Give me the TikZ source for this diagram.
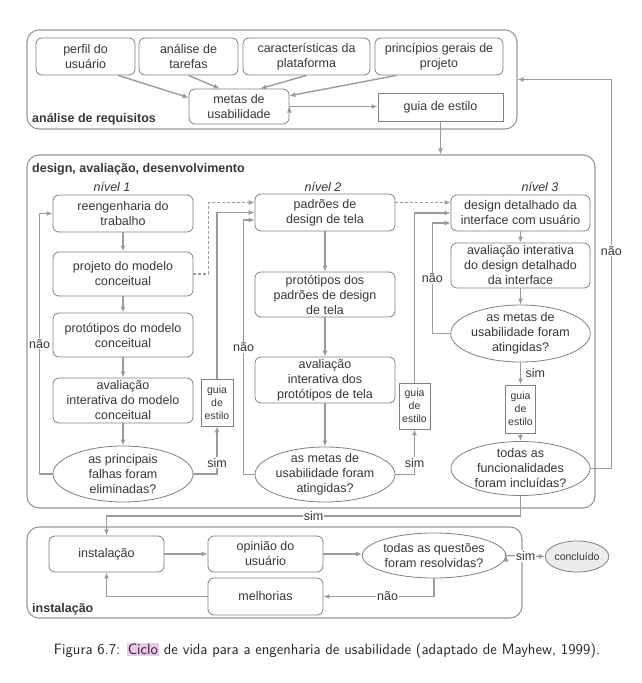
\documentclass[tikz,border=0pt]{standalone}
\usepackage{fontspec}
\setmainfont{Liberation Sans}
\usepackage{tikz}
\usetikzlibrary{arrows.meta,positioning,shapes.geometric,calc}
\definecolor{linegray}{RGB}{155,155,155}
\definecolor{boxgray}{RGB}{128,128,128}
\definecolor{groupgray}{RGB}{150,150,150}
\definecolor{txtgray}{RGB}{55,55,55}
\definecolor{donefill}{RGB}{236,236,236}
\definecolor{ciclopink}{RGB}{236,200,232}
\newcommand{\diagfont}{\fontsize{12.5}{15}\selectfont}
\newcommand{\guiafont}{\fontsize{10.5}{13}\selectfont}
\tikzset{
  box/.style={draw=boxgray, line width=0.8pt, rounded corners=6pt, align=center, inner sep=0pt, minimum height=37pt},
  decision/.style={ellipse, draw=boxgray, line width=0.8pt, align=center, inner xsep=0pt, inner ysep=-3pt},
  guiabox/.style={draw=boxgray, line width=0.8pt, align=center, inner sep=0pt, font=\guiafont},
  group/.style={draw=groupgray, rounded corners=12pt, line width=1.1pt, inner sep=0pt},
  grouplabel/.style={font=\diagfont\bfseries, anchor=base west, inner sep=0pt},
  level/.style={font=\diagfont\itshape},
  flow/.style={draw=linegray, line width=1.4pt, -{Latex[length=6pt,width=5pt]}},
  dflow/.style={flow, dash pattern=on 3pt off 2pt},
  lbl/.style={fill=white, inner sep=1pt}
}
\begin{document}
\begin{tikzpicture}[x=1pt,y=-1pt,font=\diagfont,text=txtgray]
\useasboundingbox (0,0) rectangle (641,683);

% containers
\node[group, minimum width=490pt, minimum height=99pt] (req) at (272,79.5) {};
\node[group, minimum width=568pt, minimum height=353pt] (des) at (311,331.5) {};
\node[group, minimum width=495pt, minimum height=91pt] (ins) at (274.5,572.5) {};
\node[grouplabel] (reqlabel) at (32,122) {análise de requisitos};
\node[grouplabel] (deslabel) at (32,172) {design, avaliação, desenvolvimento};
\node[grouplabel] (inslabel) at (32,612) {instalação};

% análise de requisitos
\node[box, minimum width=99pt] (perfil) at (85.5,56.5) {perfil do\\usuário};
\node[box, minimum width=99pt] (tarefas) at (188.5,56.5) {análise de\\tarefas};
\node[box, minimum width=127pt] (plataforma) at (306.5,56.5) {características da\\plataforma};
\node[box, minimum width=128pt] (principios) at (439,56.5) {princípios gerais de\\projeto};
\node[box, minimum width=100pt, minimum height=35pt] (metas) at (239,106.5) {metas de\\usabilidade};
\node[guiabox, font=\diagfont, minimum width=125pt, minimum height=28pt] (guia0) at (440.5,107) {guia de estilo};

\path[flow]
(perfil.-30) edge (metas.170)
(tarefas.south) edge (metas.137)
(plataforma.south) edge (metas.40)
(principios.-156) edge (metas.12)
(metas.east) edge (metas.east -| guia0.west);
\draw[flow] (guia0.south) -- (guia0.south |- des.north);

% nível 1
\node[level] (n1) at (112,187) {nível 1};
\node[box, minimum width=140pt] (reeng) at (123,213.5) {reengenharia do\\trabalho};
\node[box, minimum width=140pt, minimum height=44pt] (projeto) at (123,274) {projeto do modelo\\conceitual};
\node[box, minimum width=140pt, minimum height=44pt] (prot1) at (123,335) {protótipos do modelo\\conceitual};
\node[box, minimum width=140pt, minimum height=45pt] (aval1) at (123,400.5) {avaliação\\interativa do modelo\\conceitual};
\node[decision, minimum width=140pt, minimum height=56pt] (dec1) at (123,474) {as principais\\falhas foram\\eliminadas?};
\node[guiabox, minimum width=32pt, minimum height=47pt] (guia1) at (217,402.5) {guia\\de\\estilo};

% nível 2
\node[level] (n2) at (323,187) {nível 2};
\node[box, minimum width=140pt] (padroes) at (325,212.5) {padrões de\\design de tela};
\node[box, minimum width=140pt, minimum height=45pt] (prot2) at (325,294.5) {protótipos dos\\padrões de design\\de tela};
\node[box, minimum width=140pt, minimum height=46pt] (aval2) at (325,380) {avaliação\\interativa dos\\protótipos de tela};
\node[decision, minimum width=140pt, minimum height=55pt] (dec2) at (325,474.5) {as metas de\\usabilidade foram\\atingidas?};
\node[guiabox, minimum width=31pt, minimum height=46pt] (guia2) at (414.5,406) {guia\\de\\estilo};

% nível 3
\node[level] (n3) at (540,187) {nível 3};
\node[box, minimum width=139pt, minimum height=36pt] (detalhe) at (520.5,213) {design detalhado da\\interface com usuário};
\node[box, minimum width=139pt, minimum height=45pt] (aval3) at (520.5,265.5) {avaliação interativa\\do design detalhado\\da interface};
\node[decision, minimum width=139pt, minimum height=57pt] (dec3) at (520.5,333.5) {as metas de\\usabilidade foram\\atingidas?};
\node[guiabox, minimum width=30pt, minimum height=48pt] (guia3) at (520.5,409) {guia\\de\\estilo};
\node[decision, minimum width=139pt, minimum height=54pt] (todas) at (520.5,468.5) {todas as\\funcionalidades\\foram incluídas?};

\path[flow]
(reeng) edge (projeto)
(projeto) edge (prot1)
(prot1) edge (aval1)
(aval1) edge (dec1)
(padroes) edge (prot2)
(prot2) edge (aval2)
(aval2) edge (dec2)
(detalhe) edge (aval3)
(aval3) edge (dec3)
(dec3) edge node[right=1pt]{sim} (guia3)
(guia3) edge (todas);

\draw[flow] (dec1.east) -| node[lbl, pos=0.62]{sim} (guia1.south);
\draw[flow] (guia1.north) |- (padroes.west);
\draw[dflow] (projeto.east) -- ++(15,0) |- ([yshift=10pt]padroes.west);
\draw[flow] (dec1.west) -- ++(-13,0) |- node[lbl, pos=0.25]{não} (reeng.west);

\draw[flow] (dec2.east) -| node[lbl, pos=0.63]{sim} (guia2.south);
\draw[flow] (guia2.north) |- (detalhe.west);
\draw[dflow] ([yshift=10pt]padroes.east) -- ([yshift=10pt]padroes.east -| detalhe.west);
\draw[flow] (dec2.west) -- ++(-11,0) |- node[lbl, pos=0.25]{não} ([yshift=-7.5pt]padroes.west);

\draw[flow] (dec3.west) -- ++(-18,0) |- node[lbl, pos=0.25]{não} ([yshift=-10pt]detalhe.west);
\draw[flow] (todas.east) -- ++(21,0) |- node[lbl, pos=0.28]{não} (req.east);

% instalação
\node[box, minimum width=115pt, minimum height=36pt] (inst) at (106.5,554) {instalação};
\node[box, minimum width=115pt, minimum height=36pt] (opiniao) at (265.5,554) {opinião do\\usuário};
\node[box, minimum width=115pt] (melhorias) at (265.5,596.5) {melhorias};
\node[decision, minimum width=138pt, minimum height=45pt] (questoes) at (434,555.5) {todas as questões\\foram resolvidas?};
\node[decision, fill=donefill, minimum width=62pt, minimum height=31pt, font=\guiafont] (concluido) at (577,556.5) {concluído};

\draw[flow] (todas.south) -- ++(0,20) -| node[lbl, pos=0.25]{sim} (inst.north);
\path[flow]
(inst) edge (opiniao)
(opiniao.east) edge (opiniao.east -| questoes.west)
(questoes.east) edge node[lbl]{sim} (concluido.west);
\draw[flow] (questoes.south) |- node[lbl, pos=0.71]{não} (melhorias.east);
\draw[flow] (melhorias.west) -| (inst.south);

% legenda
\node[font=\sffamily\fontsize{15}{18}\selectfont, text=black!85] (legenda) at (327,651)
  {Figura 6.7: {\setlength{\fboxsep}{1pt}\colorbox{ciclopink}{Ciclo}} de vida para a engenharia de usabilidade (adaptado de Mayhew, 1999).};
\end{tikzpicture}
\end{document}
